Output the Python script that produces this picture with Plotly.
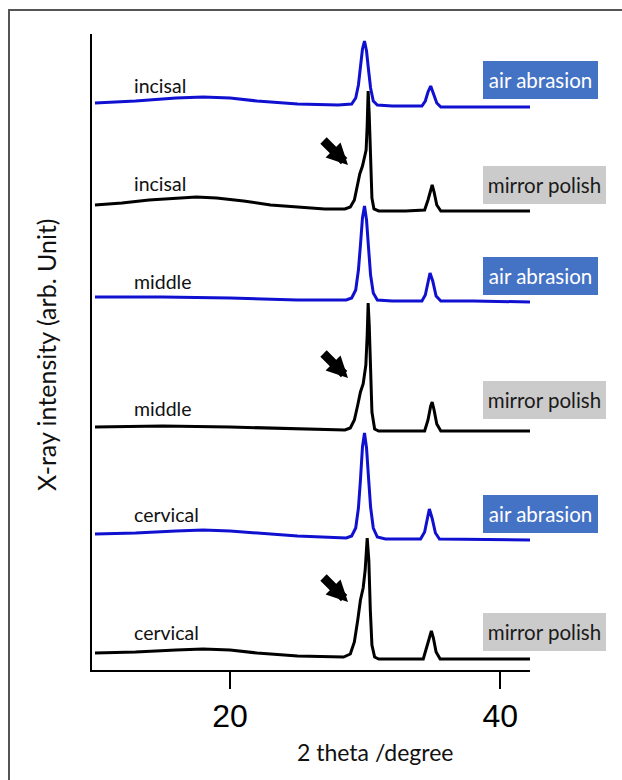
import plotly.graph_objects as go

# ---------------- data ----------------
two_theta_incisal_air = [10, 13, 16, 18, 20, 22, 25, 28, 29.0, 29.3, 29.5, 29.65, 29.8, 29.95, 30.1, 30.25,
                         30.4, 30.6, 30.9, 32, 34.2, 34.45, 34.65, 34.85, 35.05, 35.3, 35.6, 38, 42.2]
int_incisal_air = [567, 569, 572, 573, 572, 569, 566, 565, 566, 572, 585, 603, 621, 629, 619, 600,
                   582, 569, 565, 564, 564, 569, 578, 584, 577, 567, 563, 563, 563]

two_theta_incisal_mirror = [10, 12, 14, 16, 17.5, 19, 21, 23, 25, 27, 28.5, 28.9, 29.2, 29.4, 29.6, 29.8,
                            29.95, 30.07, 30.15, 30.22, 30.3, 30.4, 30.5, 30.65, 31, 33, 34.4, 34.65,
                            34.85, 34.96, 35.1, 35.3, 35.6, 38, 42.2]
int_incisal_mirror = [465, 467, 470, 472, 473, 472, 469, 465, 463, 461, 461, 463, 470, 482, 496, 504,
                      512, 520, 545, 579, 555, 505, 472, 461, 459, 459, 460, 470,
                      481, 485, 478, 465, 459, 459, 459]

two_theta_middle_air = [10, 15, 20, 25, 28.6, 29.0, 29.3, 29.5, 29.65, 29.8, 29.95, 30.1, 30.25, 30.4,
                        30.6, 30.9, 32, 34.2, 34.45, 34.65, 34.8, 35.0, 35.25, 35.6, 38, 42.2]
int_middle_air = [373, 373, 372, 370, 370, 372, 380, 400, 425, 452, 464, 450, 422, 395,
                  377, 370, 369, 369, 375, 388, 397, 389, 374, 369, 369, 368]

two_theta_middle_mirror = [10, 15, 20, 25, 28.5, 28.9, 29.2, 29.45, 29.65, 29.85, 30.05, 30.15, 30.22,
                           30.3, 30.4, 30.5, 30.7, 31, 34.4, 34.65, 34.85, 34.96, 35.1, 35.3, 35.6, 42.2]
int_middle_mirror = [243, 244, 243, 241, 240, 242, 250, 265, 278, 286, 305, 335, 367,
                     345, 295, 258, 241, 239, 239, 250, 264, 268, 260, 246, 239, 239]

two_theta_cervical_air = [10, 13, 16, 18, 20, 22, 25, 28.6, 29.0, 29.3, 29.5, 29.65, 29.8, 29.95, 30.1,
                          30.25, 30.4, 30.6, 30.9, 31.5, 34.1, 34.4, 34.6, 34.75, 34.95, 35.2, 35.5, 42.2]
int_cervical_air = [136, 137, 139, 140, 139, 137, 134, 132, 134, 142, 162, 190, 223, 237, 222,
                    192, 163, 142, 133, 131, 131, 138, 152, 161, 152, 137, 131, 130]

two_theta_cervical_mirror = [10, 13, 16, 18, 20, 22, 25, 28.4, 28.9, 29.2, 29.45, 29.65, 29.85, 30.0,
                             30.15, 30.27, 30.38, 30.5, 30.7, 31, 34.3, 34.55, 34.75, 34.9, 35.05,
                             35.25, 35.55, 42.2]
int_cervical_mirror = [17, 18, 20, 21, 20, 17, 14, 13, 16, 28, 50, 70, 82, 100,
                       132, 110, 60, 25, 13, 11, 11, 22, 33, 39, 32,
                       18, 11, 11]

region_labels = ["incisal", "incisal", "middle", "middle", "cervical", "cervical"]
treatment_labels = ["air abrasion", "mirror polish", "air abrasion", "mirror polish",
                    "air abrasion", "mirror polish"]
x_tick_vals = [20, 40]
x_tick_text = ["20", "40"]

series = [
    (two_theta_incisal_air, int_incisal_air),
    (two_theta_incisal_mirror, int_incisal_mirror),
    (two_theta_middle_air, int_middle_air),
    (two_theta_middle_mirror, int_middle_mirror),
    (two_theta_cervical_air, int_cervical_air),
    (two_theta_cervical_mirror, int_cervical_mirror),
]

# ---------------- styling / layout ----------------
W, H = 622, 780
L, R, T, B = 92, 92, 34, 110
PW, PH = W - L - R, H - T - B

BLUE = "#1010D0"
BLACK = "#000000"
LABEL_FONT = "Lato, 'Open Sans', sans-serif"


def px_x(p):
    return (p - L) / PW


def px_y(p):
    return (H - B - p) / PH


fig = go.Figure()
for i, (xs, ys) in enumerate(series):
    fig.add_trace(go.Scatter(
        x=xs, y=ys, mode="lines",
        line=dict(color=BLUE if i % 2 == 0 else BLACK, width=3),
        showlegend=False, hoverinfo="skip",
    ))

annotations = []
# region labels (left of each trace)
label_y_px = [86, 184, 281, 409, 514, 632]
for txt, yp in zip(region_labels, label_y_px):
    annotations.append(dict(
        text=txt, xref="paper", yref="paper", x=px_x(132), y=px_y(yp),
        xanchor="left", yanchor="middle", showarrow=False,
        font=dict(family=LABEL_FONT, size=19.5, color="#111111"),
    ))

# treatment boxes on the right
box_y_px = [80, 185, 276, 400, 514, 632]
for txt, yp in zip(treatment_labels, box_y_px):
    air = txt.startswith("air")
    wbox = 115 if air else 123
    annotations.append(dict(
        text=txt, xref="paper", yref="paper", x=px_x(483), y=px_y(yp),
        xanchor="left", yanchor="middle", showarrow=False,
        width=wbox, height=38, align="center", valign="middle",
        bgcolor="#4472C4" if air else "#CBCBCB",
        borderpad=0, borderwidth=0,
        font=dict(family=LABEL_FONT, size=20.5, color="white" if air else "#1a1a1a"),
    ))

# arrows pointing at the shoulders of the mirror-polish peaks
arrow_heads = [(348, 165), (348, 378), (348, 602)]
for hx, hy in arrow_heads:
    annotations.append(dict(
        text="", xref="paper", yref="paper", x=px_x(hx), y=px_y(hy),
        showarrow=True, ax=-26, ay=-26, axref="pixel", ayref="pixel",
        arrowhead=2, arrowsize=0.47, arrowwidth=9, arrowcolor="black",
    ))

# axis titles
annotations.append(dict(
    text="2 theta /degree", xref="paper", yref="paper", x=px_x(375), y=px_y(752),
    xanchor="center", yanchor="middle", showarrow=False,
    font=dict(family=LABEL_FONT, size=23, color="#111111"),
))
annotations.append(dict(
    text="X-ray intensity (arb. Unit)", xref="paper", yref="paper", x=px_x(46), y=px_y(355),
    xanchor="center", yanchor="middle", showarrow=False, textangle=-90,
    font=dict(family=LABEL_FONT, size=25, color="#111111"),
))

# outer frame (left and top edges visible)
shapes = [dict(
    type="rect", xref="paper", yref="paper",
    x0=px_x(9), x1=px_x(W + 20), y0=px_y(H + 20), y1=px_y(10),
    line=dict(color="#555555", width=2), layer="below",
)]

fig.update_layout(
    width=W, height=H,
    margin=dict(l=L, r=R, t=T, b=B),
    paper_bgcolor="white", plot_bgcolor="white",
    annotations=annotations, shapes=shapes,
    xaxis=dict(
        range=[9.78, 42.2], showgrid=False, zeroline=False,
        showline=True, linecolor="black", linewidth=1.5,
        ticks="outside", ticklen=17, tickwidth=2, tickcolor="black",
        tickvals=x_tick_vals, ticktext=x_tick_text,
        tickfont=dict(family="'Liberation Sans Narrow', 'Liberation Sans', Arial, sans-serif",
                      size=32, color="black"),
    ),
    yaxis=dict(
        range=[0, 636], showgrid=False, zeroline=False,
        showline=True, linecolor="black", linewidth=1.5,
        showticklabels=False, ticks="",
    ),
)

fig.write_html("out.html")
